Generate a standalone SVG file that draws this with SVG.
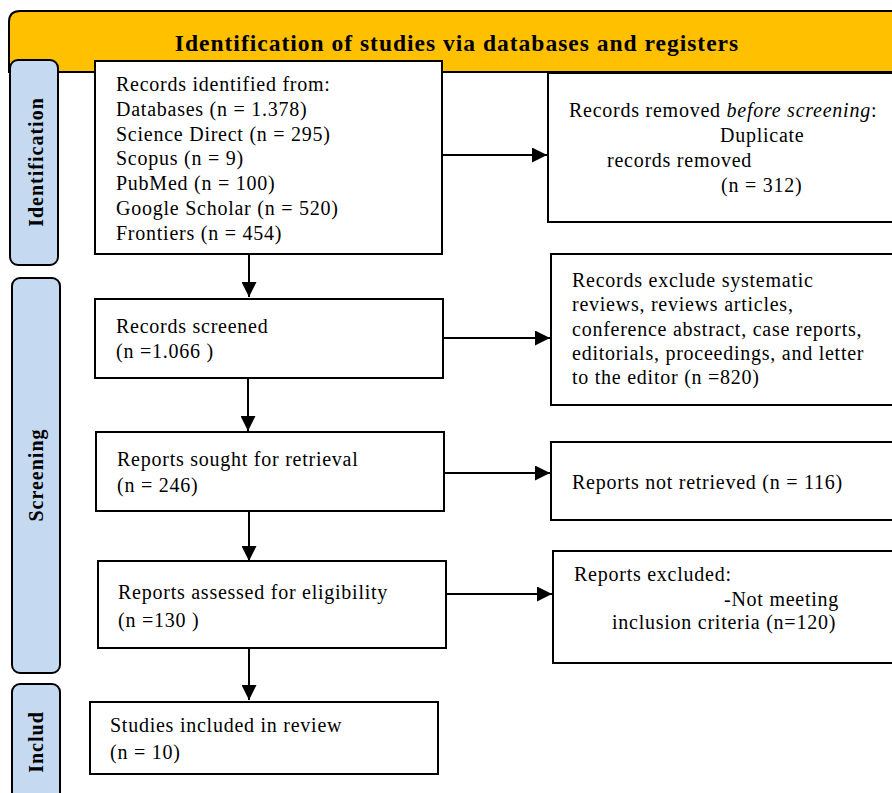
<svg xmlns="http://www.w3.org/2000/svg" width="892" height="793" viewBox="0 0 892 793">
<defs>
<style>
.box{fill:#fff;stroke:#000;stroke-width:2}
.side{fill:#c5d9f1;stroke:#000;stroke-width:2}
.t{font-family:"Liberation Serif","Times New Roman",serif;font-size:20px;letter-spacing:0.75px;fill:#000}
.st{font-family:"Liberation Serif","Times New Roman",serif;font-size:20px;letter-spacing:1px;font-weight:bold;fill:#000}
.title{font-family:"Liberation Serif","Times New Roman",serif;font-size:23.5px;letter-spacing:1px;font-weight:bold;fill:#000}
.conn{stroke:#000;stroke-width:2;fill:none;marker-end:url(#arr)}
</style>
<marker id="arr" viewBox="0 0 10 10" refX="10" refY="5" markerWidth="8" markerHeight="7.5" markerUnits="strokeWidth" orient="auto">
<path d="M0,0 L10,5 L0,10 Z" fill="#000"/>
</marker>
</defs>
<rect width="892" height="793" fill="#fff"/>
<g id="header">
<path d="M9,72 V22 Q9,11 20,11 H902 V72 Z" fill="#ffc000" stroke="#000" stroke-width="2"/>
<text class="title" x="457" y="51" text-anchor="middle">Identification of studies via databases and registers</text>
</g>
<g id="side-identification">
<rect class="side" x="10" y="60" width="48" height="205" rx="8"/>
<text class="st" transform="translate(43,162) rotate(-90)" text-anchor="middle">Identification</text>
</g>
<g id="side-screening">
<rect class="side" x="12" y="278" width="48" height="395" rx="8"/>
<text class="st" transform="translate(43,475) rotate(-90)" text-anchor="middle">Screening</text>
</g>
<g id="side-included">
<rect class="side" x="12" y="684" width="48" height="130" rx="8"/>
<text class="st" transform="translate(43,742) rotate(-90)" text-anchor="middle">Includ</text>
</g>
<g id="connectors">
<line class="conn" x1="249" y1="254" x2="249" y2="297"/>
<line class="conn" x1="248" y1="378" x2="248" y2="431"/>
<line class="conn" x1="249" y1="511" x2="249" y2="561"/>
<line class="conn" x1="249" y1="648" x2="249" y2="700"/>
<line class="conn" x1="442" y1="155" x2="547" y2="155"/>
<line class="conn" x1="443" y1="338" x2="550" y2="338"/>
<line class="conn" x1="444" y1="473" x2="550" y2="473"/>
<line class="conn" x1="446" y1="594" x2="552" y2="594"/>
</g>
<g id="records-identified">
<rect class="box" x="95" y="61" width="347" height="193"/>
<text class="t" x="116" y="91">Records identified from:</text>
<text class="t" x="116" y="116">Databases (n = 1.378)</text>
<text class="t" x="116" y="141">Science Direct (n = 295)</text>
<text class="t" x="116" y="165">Scopus (n = 9)</text>
<text class="t" x="116" y="190">PubMed (n = 100)</text>
<text class="t" x="116" y="215">Google Scholar (n = 520)</text>
<text class="t" x="116" y="240">Frontiers (n = 454)</text>
</g>
<g id="records-removed">
<rect class="box" x="548" y="73" width="360" height="149"/>
<text class="t" x="569" y="117">Records removed <tspan font-style="italic">before screening</tspan>:</text>
<text class="t" x="720" y="142">Duplicate</text>
<text class="t" x="607" y="167">records removed</text>
<text class="t" x="721" y="192">(n = 312)</text>
</g>
<g id="records-screened">
<rect class="box" x="95" y="299" width="348" height="79"/>
<text class="t" x="116" y="333">Records screened</text>
<text class="t" x="116" y="358">(n =1.066 )</text>
</g>
<g id="records-excluded">
<rect class="box" x="551" y="254" width="360" height="151"/>
<text class="t" x="572" y="287">Records exclude systematic</text>
<text class="t" x="572" y="311">reviews, reviews articles,</text>
<text class="t" x="572" y="336">conference abstract, case reports,</text>
<text class="t" x="572" y="360">editorials, proceedings, and letter</text>
<text class="t" x="572" y="384">to the editor (n =820)</text>
</g>
<g id="reports-sought">
<rect class="box" x="96" y="432" width="348" height="79"/>
<text class="t" x="117" y="466">Reports sought for retrieval</text>
<text class="t" x="117" y="492">(n = 246)</text>
</g>
<g id="reports-not-retrieved">
<rect class="box" x="551" y="442" width="360" height="78"/>
<text class="t" x="572" y="489">Reports not retrieved (n = 116)</text>
</g>
<g id="reports-assessed">
<rect class="box" x="98" y="561" width="348" height="87"/>
<text class="t" x="118" y="599">Reports assessed for eligibility</text>
<text class="t" x="118" y="627">(n =130 )</text>
</g>
<g id="reports-excluded">
<rect class="box" x="553" y="551" width="360" height="112"/>
<text class="t" x="574" y="581">Reports excluded:</text>
<text class="t" x="724" y="606">-Not meeting</text>
<text class="t" x="612" y="629">inclusion criteria (n=120)</text>
</g>
<g id="studies-included">
<rect class="box" x="90" y="702" width="348" height="72"/>
<text class="t" x="110" y="732">Studies included in review</text>
<text class="t" x="110" y="759">(n = 10)</text>
</g>
</svg>
